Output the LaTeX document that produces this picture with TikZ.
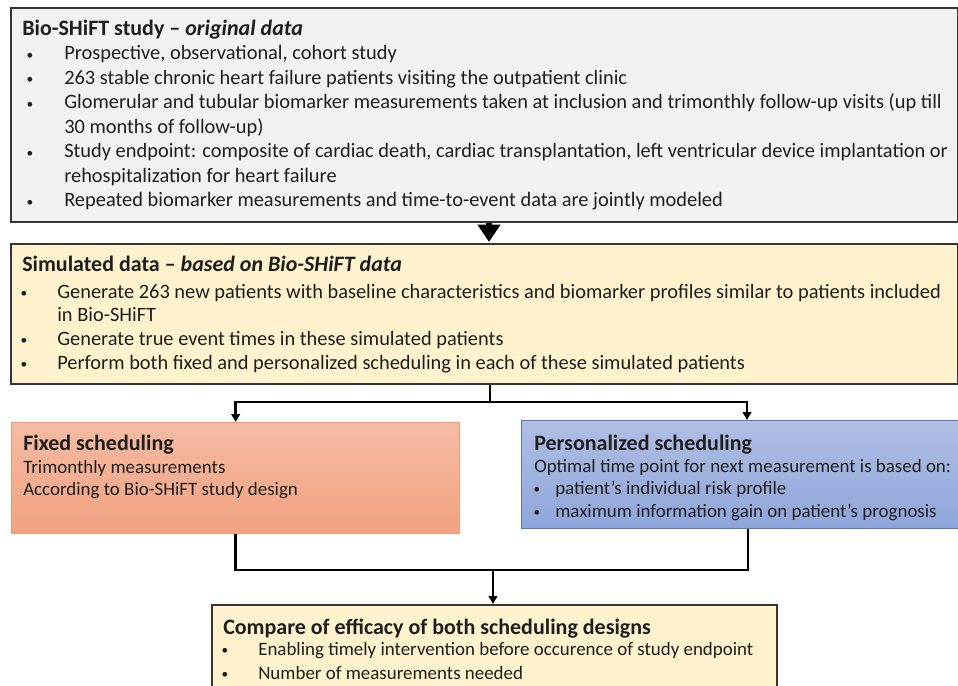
\documentclass[tikz,border=0pt]{standalone}
\usepackage{fontspec}
\setmainfont{Carlito}
\usetikzlibrary{arrows.meta}
\definecolor{inkc}{HTML}{1E1E1E}
\definecolor{greyfill}{HTML}{F2F2F2}
\definecolor{sandfill}{HTML}{FFF2CC}
\definecolor{orangetop}{HTML}{F5BBA4}
\definecolor{orangebot}{HTML}{F2A27F}
\definecolor{orangeline}{HTML}{F09A6E}
\definecolor{bluetop}{HTML}{B0BEE4}
\definecolor{bluebot}{HTML}{8FA5DA}
\definecolor{blueline}{HTML}{4F7BC8}
\tikzset{
  panel/.style={anchor=north west, inner sep=0pt, line width=1.5pt},
  greypanel/.style={panel, draw=inkc!90, fill=greyfill},
  sandpanel/.style={panel, draw=inkc!90, fill=sandfill},
  orangepanel/.style={panel, draw=orangeline, line width=1pt, top color=orangetop, bottom color=orangebot},
  bluepanel/.style={panel, draw=blueline, line width=1pt, top color=bluetop, bottom color=bluebot},
  txt/.style={anchor=mid west, inner sep=0pt, yshift=-3pt, text=inkc, font=\fontsize{15.3pt}{17pt}\selectfont},
  smalltxt/.style={txt, font=\fontsize{14.2pt}{16pt}\selectfont},
  ttl/.style={txt, yshift=-0.75pt, font=\fontsize{16.5pt}{19pt}\selectfont\bfseries},
  dot/.style={anchor=mid, inner sep=0pt, yshift=-2.5pt, text=inkc, font=\fontsize{10pt}{12pt}\selectfont},
  conn/.style={draw=black, line width=1.8pt},
  connarrow/.style={conn, -{Triangle[width=6.5pt,length=6pt]}},
  bigarrow/.style={draw=black, line width=5pt, -{Triangle[width=16.5pt,length=13pt]}},
}
\begin{document}
\begin{tikzpicture}[x=0.75pt, y=-0.75pt]
\useasboundingbox (0,0) rectangle (958,686);
\clip (0,0) rectangle (958,686);

% ---- boxes ----
\node[greypanel, minimum width=710.25pt, minimum height=160.5pt] (orig) at (10,7) {};
\node[sandpanel, minimum width=710.25pt, minimum height=105pt] (sim) at (10,243) {};
\node[orangepanel, minimum width=336pt, minimum height=83.25pt] (fixed) at (11,422) {};
\node[bluepanel, minimum width=333pt, minimum height=81pt] (pers) at (521,420) {};
\node[sandpanel, minimum width=423.75pt, minimum height=75pt] (comp) at (211,604) {};

% ---- original data ----
\node[ttl] (o0) at (22,27) {Bio-SHiFT study -- \textit{original data}};
\foreach \y/\n in {52.5/a,77/b,101.5/c,150.5/d,199.5/e}
  \node[dot] (ob\n) at (30,\y) {\textbullet};
\node[txt] (o1) at (64,52.5) {Prospective, observational, cohort study};
\node[txt] (o2) at (64,77) {263 stable chronic heart failure patients visiting the outpatient clinic};
\node[txt] (o3) at (64,101.5) {Glomerular and tubular biomarker measurements taken at inclusion and trimonthly follow-up visits (up till};
\node[txt] (o4) at (64,126) {30 months of follow-up)};
\node[txt] (o5) at (64,150.5) {Study endpoint: composite of cardiac death, cardiac transplantation, left ventricular device implantation or};
\node[txt] (o6) at (64,175) {rehospitalization for heart failure};
\node[txt] (o7) at (64,199.5) {Repeated biomarker measurements and time-to-event data are jointly modeled};

% ---- simulated data ----
\node[ttl] (s0) at (22,263) {Simulated data -- \textit{based on Bio-SHiFT data}};
\foreach \y/\n in {291/a,338/b,362/c}
  \node[dot] (sb\n) at (24,\y) {\textbullet};
\node[txt] (s1) at (57,291) {Generate 263 new patients with baseline characteristics and biomarker profiles similar to patients included};
\node[txt] (s2) at (57,314) {in Bio-SHiFT};
\node[txt] (s3) at (57,338) {Generate true event times in these simulated patients};
\node[txt] (s4) at (57,362) {Perform both fixed and personalized scheduling in each of these simulated patients};

% ---- fixed scheduling ----
\node[ttl] (f0) at (23,442) {Fixed scheduling};
\node[smalltxt] (f1) at (23,466) {Trimonthly measurements};
\node[smalltxt] (f2) at (23,488) {According to Bio-SHiFT study design};

% ---- personalized scheduling ----
\node[ttl] (p0) at (534,442) {Personalized scheduling};
\node[smalltxt] (p1) at (534,465) {Optimal time point for next measurement is based on:};
\node[dot] (pba) at (537,487) {\textbullet};
\node[dot] (pbb) at (537,510) {\textbullet};
\node[smalltxt] (p2) at (555,487) {patient’s individual risk profile};
\node[smalltxt] (p3) at (555,510) {maximum information gain on patient’s prognosis};

% ---- comparison ----
\node[ttl] (c0) at (223,626) {Compare of efficacy of both scheduling designs};
\node[dot] (cba) at (225,648) {\textbullet};
\node[dot] (cbb) at (225,672) {\textbullet};
\node[smalltxt] (c1) at (258,648) {Enabling timely intervention before occurence of study endpoint};
\node[smalltxt] (c2) at (258,672) {Number of measurements needed};

% ---- connectors ----
\coordinate (down1) at (489,0);
\draw[bigarrow] (orig.south -| down1) -- ([yshift=0.8pt]sim.north -| down1);

\coordinate (split) at (490,402);
\coordinate (persin) at (747,0);
\draw[conn] (sim.south -| split) -- (split);
\draw[connarrow] (split) -| (fixed.north);
\draw[connarrow] (split) -| (pers.north -| persin);

\coordinate (merge) at (493,570);
\coordinate (persout) at (748,0);
\draw[conn] (fixed.south) |- (merge);
\draw[conn] (pers.south -| persout) |- (merge);
\draw[connarrow] (merge) -- (comp.north -| merge);
\end{tikzpicture}
\end{document}
